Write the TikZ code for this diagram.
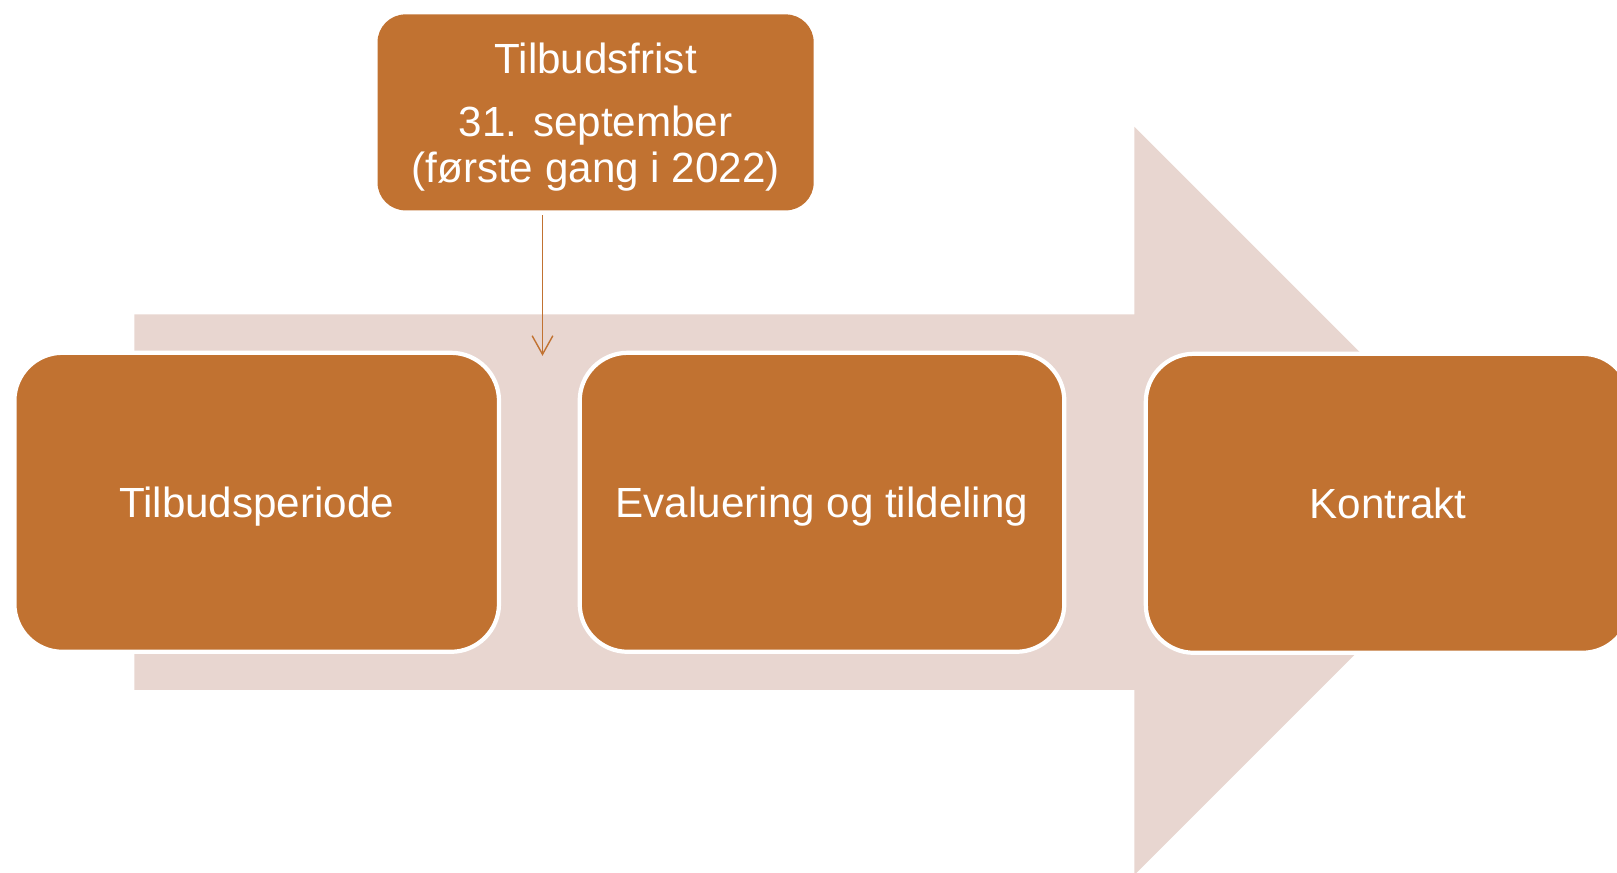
\documentclass[tikz,border=0pt]{standalone}
\usepackage{fontspec}
\setmainfont{Liberation Sans}
\usetikzlibrary{arrows.meta}
\definecolor{fase}{RGB}{193,114,49}
\definecolor{pil}{RGB}{232,214,208}

\begin{document}
\begin{tikzpicture}[
    fasebox/.style={rectangle, rounded corners=0.48cm, fill=fase, draw=white, line width=1.2pt,
        minimum width=4.846cm, minimum height=2.99cm, text depth=0pt, text=white,
        font=\fontsize{12}{14}\selectfont},
    fristbox/.style={rectangle, rounded corners=0.28cm, fill=fase, minimum width=4.362cm,
        minimum height=1.96cm, text depth=0pt, text=white, align=center,
        font=\fontsize{12}{12.9}\selectfont},
    frist/.style={fase, line width=0.4pt, -{Straight Barb[length=5.3pt, width=5.9pt]}}
]
    \useasboundingbox (0,0) rectangle (16.17,-8.73);
    \clip (0,0) rectangle (16.17,-8.73);

    % stor pil i bakgrunnen
    \fill[pil] (1.344,-3.145) -- (11.344,-3.145) -- (11.344,-1.269) -- (15.085,-5.01)
        -- (11.344,-8.75) -- (11.344,-6.90) -- (1.344,-6.90) -- cycle;

    % faser
    \node[fasebox] (periode) at (2.567,-5.023) {Tilbudsperiode};
    \node[fasebox] (evaluering) at (8.22,-5.023) {Evaluering og tildeling};
    \node[fasebox] (kontrakt) at (13.881,-5.033) {Kontrakt};

    % tilbudsfrist
    \node[fristbox] (tilbudsfrist) at (5.956,-1.124)
        {Tilbudsfrist\\[5.3pt]31. september\\(første gang i 2022)};
    \coordinate (fristpunkt) at (5.425,-3.558);
    \draw[frist, shorten <=1.2pt] (tilbudsfrist.south -| fristpunkt) -- (fristpunkt);
\end{tikzpicture}
\end{document}
